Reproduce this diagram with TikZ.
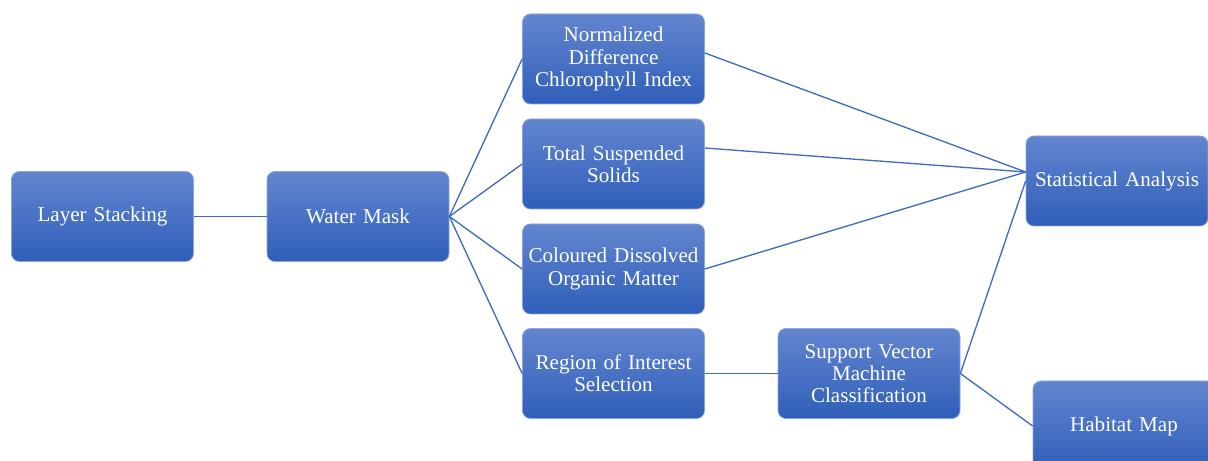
\documentclass[tikz,border=0pt]{standalone}
\usepackage{fontspec}
\setmainfont{Liberation Serif}
\usepackage{tikz}
\usetikzlibrary{positioning}
\definecolor{boxtop}{RGB}{99,133,207}
\definecolor{boxbot}{RGB}{47,95,185}
\definecolor{boxedge}{RGB}{140,165,220}
\definecolor{linkblue}{RGB}{64,106,190}
\tikzset{
    box_blue/.style={
        rectangle, rounded corners=4.5pt, draw=boxedge, line width=0.4pt,
        top color=boxtop, bottom color=boxbot,
        minimum width=3.64cm, minimum height=1.8cm,
        inner xsep=0.05cm, text width=3.5cm,
        align=center, text=white, font=\fontsize{12}{12.6}\selectfont
    },
    link_line/.style={
        draw=linkblue, line width=0.75pt
    }
}
\begin{document}
\begin{tikzpicture}
    \useasboundingbox (0,0) rectangle (24.16,-9.22);

    % Left Column
    \node[box_blue] (layer) at (2.05,-4.33) {Layer Stacking};
    \node[box_blue] (water) at (7.16,-4.33) {Water Mask};

    % Middle Column
    \node[box_blue] (ndci) at (12.27,-1.18) {Normalized\\Difference\\Chlorophyll Index};
    \node[box_blue] (tss) at (12.27,-3.28) {Total Suspended\\Solids};
    \node[box_blue] (cdom) at (12.27,-5.38) {Coloured Dissolved\\Organic Matter};
    \node[box_blue] (roi) at (12.27,-7.47) {Region of Interest\\Selection};
    \node[box_blue] (svm) at (17.38,-7.47) {Support Vector\\Machine\\Classification};

    % Right Column
    \node[box_blue] (stat) at (22.34,-3.62) {Statistical Analysis};
    \node[box_blue] (habitat) at (22.48,-8.52) {Habitat Map};

    % Connectors
    \draw[link_line] (layer) -- (water);
    \draw[link_line] (water.east) -- (ndci.west);
    \draw[link_line] (water.east) -- (tss.west);
    \draw[link_line] (water.east) -- (cdom.west);
    \draw[link_line] (water.east) -- (roi.west);
    \draw[link_line] (roi) -- (svm);
    \draw[link_line] ([yshift=0.12cm]ndci.east) -- ([yshift=0.18cm]stat.west);
    \draw[link_line] ([yshift=0.32cm]tss.east) -- ([yshift=0.18cm]stat.west);
    \draw[link_line] (cdom.east) -- ([yshift=0.18cm]stat.west);
    \draw[link_line] (svm.east) -- (stat.west);
    \draw[link_line] (svm.east) -- (habitat.west);
\end{tikzpicture}
\end{document}
